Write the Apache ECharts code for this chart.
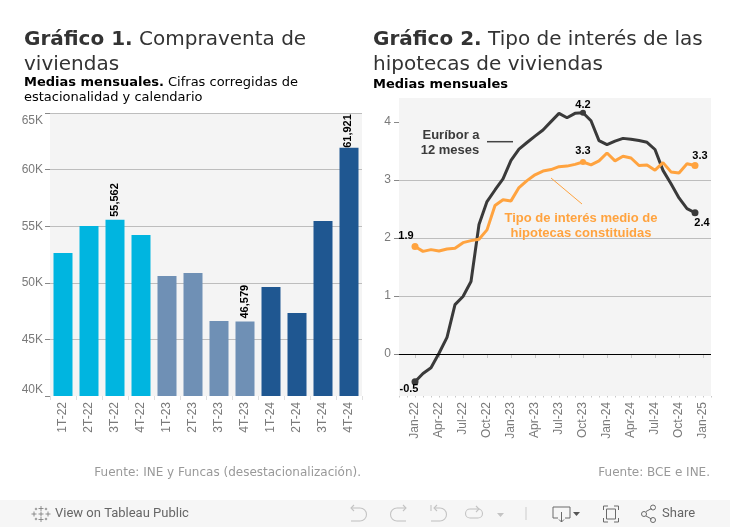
<!DOCTYPE html>
<html>
<head>
<meta charset="utf-8">
<style>html,body{margin:0;padding:0;background:#fff}#c{width:730px;height:527px}</style>
<script src="https://cdn.jsdelivr.net/npm/echarts@6/dist/echarts.min.js"></script>
</head>
<body>
<div id="c"></div>
<script>
const quarters = ['1T-22','2T-22','3T-22','4T-22','1T-23','2T-23','3T-23','4T-23','1T-24','2T-24','3T-24','4T-24'];
const sales = [52630,55020,55562,54220,50600,50870,46620,46579,49630,47330,55460,61921];
const salesLabelled = ['3T-22','4T-23','4T-24'];
const yearColors = {'22':'#00b5e0','23':'#6f90b5','24':'#1f5791'};
const salesTicks = [40000,45000,50000,55000,60000,65000];

const months = ['','',
 'Jan-22','Feb-22','Mar-22','Apr-22','May-22','Jun-22','Jul-22','Aug-22','Sep-22','Oct-22','Nov-22','Dec-22',
 'Jan-23','Feb-23','Mar-23','Apr-23','May-23','Jun-23','Jul-23','Aug-23','Sep-23','Oct-23','Nov-23','Dec-23',
 'Jan-24','Feb-24','Mar-24','Apr-24','May-24','Jun-24','Jul-24','Aug-24','Sep-24','Oct-24','Nov-24','Dec-24',
 'Jan-25',''];
const euribor = [-0.477,-0.335,-0.237,0.013,0.287,0.852,0.992,1.249,2.233,2.629,2.828,3.018,
 3.337,3.534,3.647,3.757,3.862,4.007,4.149,4.073,4.149,4.160,4.022,3.679,
 3.609,3.671,3.718,3.703,3.68,3.65,3.526,3.166,2.936,2.691,2.506,2.436];
const mortgage = [1.855,1.77,1.80,1.775,1.81,1.825,1.92,1.955,1.98,2.14,2.56,2.66,
 2.64,2.87,2.99,3.09,3.155,3.18,3.23,3.24,3.27,3.31,3.26,3.33,
 3.465,3.33,3.41,3.38,3.25,3.26,3.17,3.30,3.14,3.12,3.28,3.25];
const rateTicks = [0,1,2,3,4];

const SANS = '"Liberation Sans",Arial,sans-serif', DEJA = '"DejaVu Sans",Verdana,sans-serif';
const GRID = '#bdbdbd', AXT = '#7a7a7a', DARK = '#3a3a3a', ORANGE = '#ffa33f', BG = '#f4f4f4';

const barData = quarters.map((q,i)=>({
  value: sales[i],
  itemStyle:{color:yearColors[q.slice(-2)]},
  label:{show:salesLabelled.includes(q),offset:q==='4T-24'?[-3,-1]:[0,0]}
}));

function linePts(values, marks, color){
  const out = months.map(()=>null);
  values.forEach((v,i)=>{
    const m = marks[i];
    out[i+2] = m ? {
      value:v, symbol:'circle', symbolSize:(i===0||i===35)?7:6,
      itemStyle:{color},
      label:{show:true,position:'inside',offset:m,color:'#000',fontFamily:SANS,fontWeight:'bold',fontSize:11,
             formatter:()=>v.toFixed(1)}
    } : {value:v, symbol:'none'};
  });
  return out;
}
const euriborMarks = {0:[-6,7],21:[0,-8],35:[7,10]};
const mortgageMarks = {0:[-9,-10],21:[0,-11],35:[5,-10]};

function titleLine(left,top,text,size,rich){
  return {left,top,text,padding:0,textStyle:{fontFamily:DEJA,fontSize:size,fontWeight:'normal',color:'#333',rich}};
}
const big = {b:{fontFamily:DEJA,fontSize:20,fontWeight:'bold',color:'#333'},r:{fontFamily:DEJA,fontSize:20,color:'#333'}};
const small = {b:{fontFamily:DEJA,fontSize:13,fontWeight:'bold',color:'#000'},r:{fontFamily:DEJA,fontSize:13,color:'#000'}};

const ic = {stroke:'#c4c4c4',fill:'none',lineWidth:1.1};
const ic2 = {stroke:'#6a6a6a',fill:'none',lineWidth:1};
function poly(points,style){return {type:'polyline',silent:true,z:10,shape:{points},style};}
function arc(cx,cy,r,a0,a1,style){return {type:'arc',silent:true,z:10,shape:{cx,cy,r,startAngle:a0,endAngle:a1,clockwise:true},style};}
function label(x,y,text,style){return {type:'text',x,y,z:10,silent:true,style:Object.assign({text,verticalAlign:'middle'},style)};}
const HALF = Math.PI/2;
function cross(cx,cy,r,style){return [poly([[cx,cy-r],[cx,cy+r]],style),poly([[cx-r,cy],[cx+r,cy]],style)];}
const tw = {stroke:'#777',fill:'none',lineWidth:0.8};

const option = {
  animation:false,
  backgroundColor:'#fff',
  title:[
    titleLine(24,30,'{b|Gráfico 1.} {r|Compraventa de}',20,big),
    titleLine(24,55,'{r|viviendas}',20,big),
    titleLine(24,76,'{b|Medias mensuales.} {r|Cifras corregidas de}',13,small),
    titleLine(24,91,'{r|estacionalidad y calendario}',13,small),
    titleLine(373,30,'{b|Gráfico 2.} {r|Tipo de interés de las}',20,big),
    titleLine(373,55,'{r|hipotecas de viviendas}',20,big),
    titleLine(373,78,'{b|Medias mensuales}',13,small)
  ],
  grid:[
    {left:50,top:113,width:312,height:283,show:true,backgroundColor:BG,borderWidth:0},
    {left:399,top:98,width:312,height:298,show:true,backgroundColor:BG,borderWidth:0}
  ],
  xAxis:[
    {gridIndex:0,type:'category',data:quarters,
     axisLine:{show:false},
     axisTick:{show:true,length:4,lineStyle:{color:'#e0e0e0'}},
     axisLabel:{rotate:90,margin:6,color:AXT,fontFamily:SANS,fontSize:12,interval:0,verticalAlign:'middle'}},
    {gridIndex:1,type:'category',data:months,boundaryGap:false,
     axisLine:{show:false},
     axisTick:{show:true,length:4,lineStyle:{color:'#c8c8c8'},interval:i=>months[i]!==''&&(i-2)%3===0},
     axisLabel:{rotate:90,margin:6,color:AXT,fontFamily:SANS,fontSize:12,verticalAlign:'middle',
       interval:i=>months[i]!==''&&(i-2)%3===0}},
    {gridIndex:1,type:'category',data:months,boundaryGap:false,position:'bottom',
     axisLine:{show:false},axisLabel:{show:false},
     axisTick:{show:true,length:1.5,interval:0,lineStyle:{color:'#c8c8c8'}}}
  ],
  yAxis:[
    {gridIndex:0,type:'value',min:40000,max:65000,interval:5000,
     axisLine:{show:false},axisTick:{show:true,length:5,lineStyle:{color:'#888'}},
     splitLine:{show:true,showMinLine:false,lineStyle:{color:GRID}},
     axisLabel:{margin:7,color:AXT,fontFamily:SANS,fontSize:12,padding:[2,0,0,0],
       formatter:v=>salesTicks.includes(v)?(v/1000)+'K':'',
       verticalAlignMinLabel:'bottom',verticalAlignMaxLabel:'top'}},
    {gridIndex:1,type:'value',min:-0.724,max:4.414,interval:1,
     axisLine:{show:false},
     axisTick:{show:true,length:5,lineStyle:{color:'#888'},customValues:rateTicks},
     splitLine:{show:true,showMinLine:false,showMaxLine:false,lineStyle:{color:GRID}},
     axisLabel:{margin:8,color:AXT,fontFamily:SANS,fontSize:12,padding:[2,0,0,0],customValues:rateTicks,formatter:v=>String(v)}}
  ],
  series:[
    {type:'bar',xAxisIndex:0,yAxisIndex:0,data:barData,barWidth:19,
     label:{show:false,position:'top',rotate:90,distance:3,align:'left',verticalAlign:'middle',color:'#000',
       fontFamily:SANS,fontWeight:'bold',fontSize:11,
       formatter:p=>p.value.toLocaleString('en-US')}},
    {type:'line',name:'Euríbor a 12 meses',xAxisIndex:1,yAxisIndex:1,data:linePts(euribor,euriborMarks,DARK),
     showAllSymbol:true,lineStyle:{color:DARK,width:3},itemStyle:{color:DARK},
     markLine:{silent:true,symbol:'none',label:{show:false},data:[{yAxis:0}],lineStyle:{color:'#000',width:1,type:'solid'}}},
    {type:'line',name:'Tipo de interés medio de hipotecas constituidas',xAxisIndex:1,yAxisIndex:1,data:linePts(mortgage,mortgageMarks,ORANGE),
     showAllSymbol:true,lineStyle:{color:ORANGE,width:3},itemStyle:{color:ORANGE}}
  ],
  graphic:{elements:[
    {type:'line',silent:true,z:5,shape:{x1:487,y1:141.7,x2:513,y2:141.7},style:{stroke:'#444',lineWidth:1.5}},
    {type:'line',silent:true,z:5,shape:{x1:551,y1:178,x2:582,y2:204},style:{stroke:ORANGE,lineWidth:1}},
    label(451,135,'Euríbor a',{align:'center',fill:DARK,font:'bold 13px '+SANS}),
    label(450,150,'12 meses',{align:'center',fill:DARK,font:'bold 13px '+SANS}),
    label(581,218,'Tipo de interés medio de',{align:'center',fill:ORANGE,font:'bold 13px '+SANS}),
    label(581,233,'hipotecas constituidas',{align:'center',fill:ORANGE,font:'bold 13px '+SANS}),
    label(361,473,'Fuente: INE y Funcas (desestacionalización).',{align:'right',fill:'#999',font:'12px '+DEJA}),
    label(710,473,'Fuente: BCE e INE.',{align:'right',fill:'#999',font:'12px '+DEJA}),
    {type:'rect',silent:true,z:9,shape:{x:0,y:500,width:730,height:27},style:{fill:'#f6f6f6'}},
    ...cross(41,508.5,2.5,tw),...cross(41,519.5,2.5,tw),...cross(34,514,2.5,tw),...cross(48,514,2.5,tw),...cross(41,514,2.5,tw),
    ...cross(36,509,1.2,tw),...cross(46,509,1.2,tw),...cross(36,519,1.2,tw),...cross(46,519,1.2,tw),
    label(55,514,'View on Tableau Public',{align:'left',fill:'#666',font:'13px Roboto,'+SANS}),
    poly([[354,505],[351,508],[354,511]],ic),poly([[351,508],[360,508]],ic),poly([[360,521],[351,521]],ic),arc(360,514.5,6.5,-HALF,HALF,ic),
    poly([[403,505],[406,508],[403,511]],ic),poly([[406,508],[397,508]],ic),poly([[397,521],[406,521]],ic),arc(397,514.5,6.5,HALF,3*HALF,ic),
    poly([[431,505],[431,511]],ic),poly([[437,505],[434,508],[437,511]],ic),poly([[434,508],[440,508]],ic),poly([[440,521],[431,521]],ic),arc(440,514.5,6.5,-HALF,HALF,ic),
    poly([[470,509],[478,509]],ic),poly([[470,518],[478,518]],ic),arc(470,513.5,4.5,HALF,3*HALF,ic),arc(478,513.5,4.5,-HALF,HALF,ic),poly([[476,506],[479,509],[476,512]],ic),
    {type:'polygon',silent:true,z:10,shape:{points:[[497,513],[504,513],[500.5,517]]},style:{fill:'#c4c4c4'}},
    poly([[526,507],[526,520]],{stroke:'#ccc',fill:'none',lineWidth:1}),
    poly([[558,518],[553,518],[553,507],[570,507],[570,518],[565,518]],ic2),poly([[561.5,512],[561.5,522]],ic2),poly([[559,519.5],[561.5,522],[564,519.5]],ic2),
    {type:'polygon',silent:true,z:10,shape:{points:[[573,512],[580,512],[576.5,516]]},style:{fill:'#555'}},
    poly([[603.5,510],[603.5,506],[608,506]],ic2),poly([[614,506],[618.5,506],[618.5,510]],ic2),poly([[618.5,518],[618.5,522],[614,522]],ic2),poly([[608,522],[603.5,522],[603.5,518]],ic2),
    {type:'rect',silent:true,z:10,shape:{x:606.5,y:509,width:9,height:10},style:ic2},
    poly([[646,511.5],[651.5,508.5]],ic2),poly([[646,516],[651.5,519]],ic2),
    {type:'circle',silent:true,z:10,shape:{cx:644,cy:514,r:2.5},style:ic2},
    {type:'circle',silent:true,z:10,shape:{cx:653,cy:507.5,r:2.5},style:ic2},
    {type:'circle',silent:true,z:10,shape:{cx:653,cy:520,r:2.5},style:ic2},
    label(662,514,'Share',{align:'left',fill:'#666',font:'13px Roboto,'+SANS})
  ]}
};
const chart = echarts.init(document.getElementById('c'),null,{renderer:'canvas'});
chart.setOption(option);
</script>
</body>
</html>
